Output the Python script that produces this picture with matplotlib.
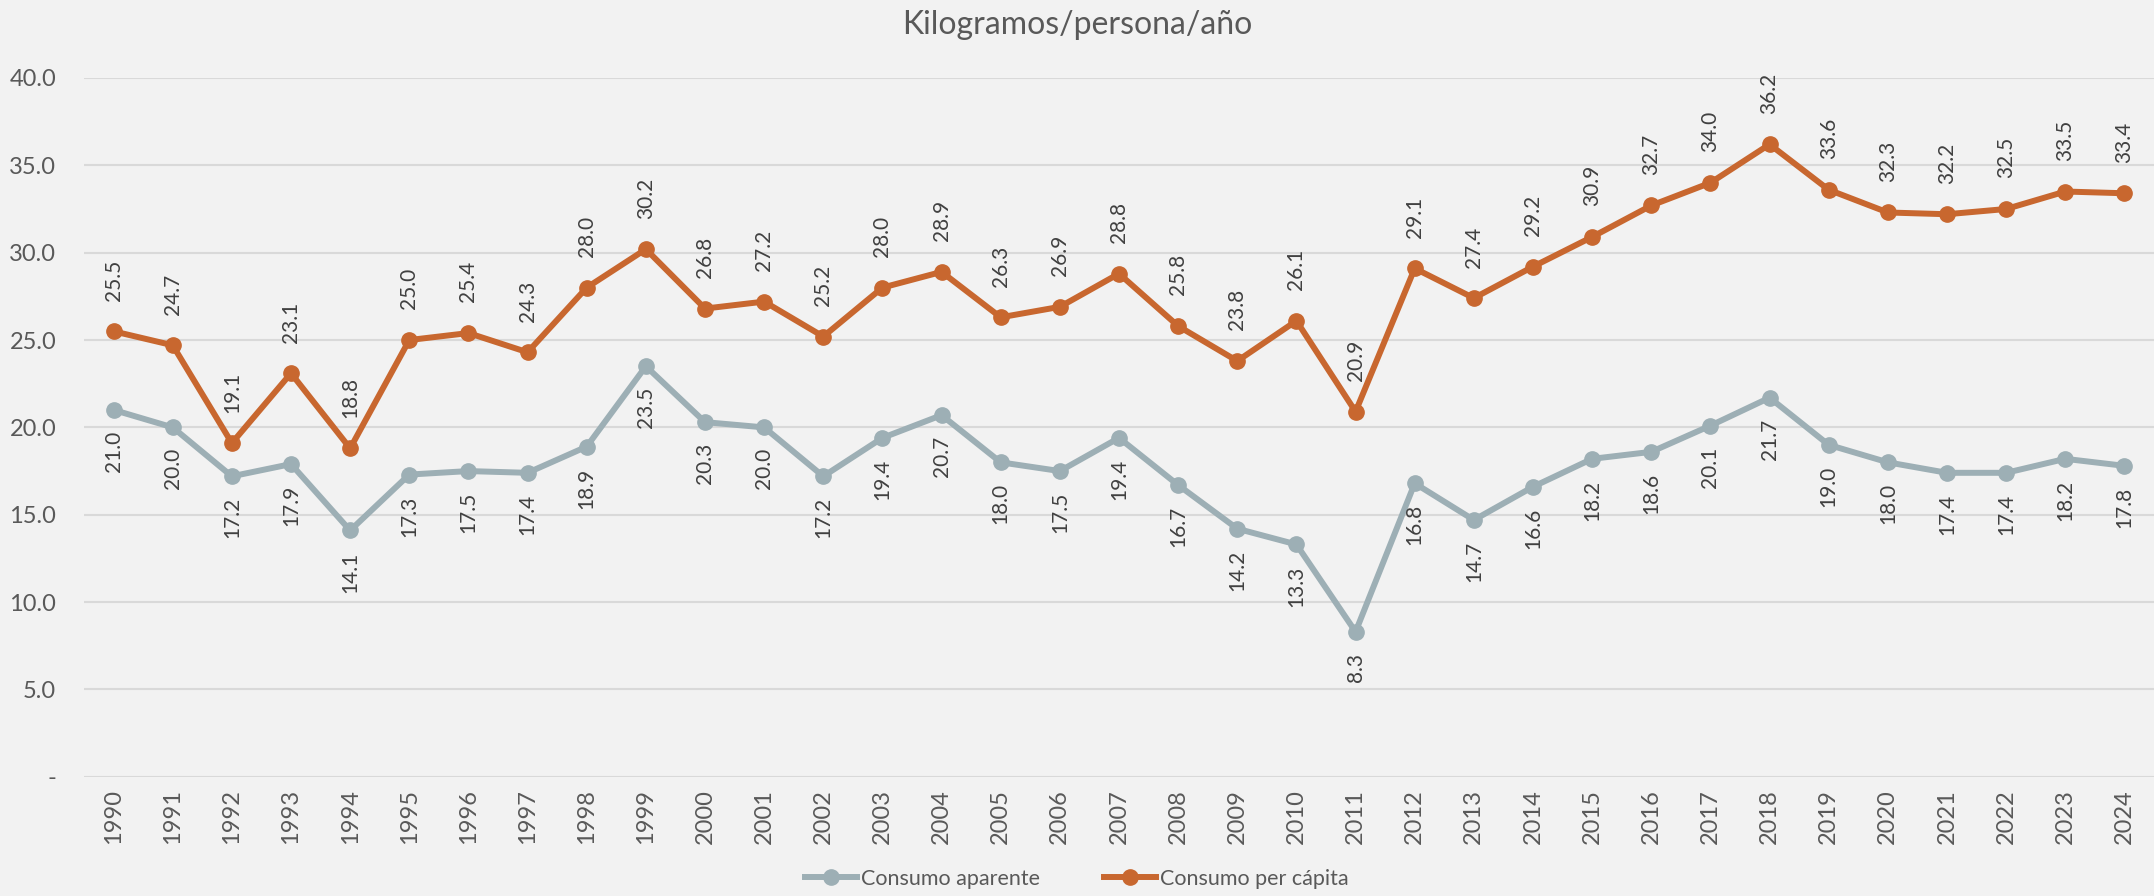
import matplotlib
matplotlib.use("Agg")
from matplotlib import pyplot as plt
from matplotlib.ticker import FuncFormatter

years = [str(y) for y in range(1990, 2025)]
consumo_aparente = [21.0, 20.0, 17.2, 17.9, 14.1, 17.3, 17.5, 17.4, 18.9, 23.5,
                    20.3, 20.0, 17.2, 19.4, 20.7, 18.0, 17.5, 19.4, 16.7, 14.2,
                    13.3, 8.3, 16.8, 14.7, 16.6, 18.2, 18.6, 20.1, 21.7, 19.0,
                    18.0, 17.4, 17.4, 18.2, 17.8]
consumo_per_capita = [25.5, 24.7, 19.1, 23.1, 18.8, 25.0, 25.4, 24.3, 28.0, 30.2,
                      26.8, 27.2, 25.2, 28.0, 28.9, 26.3, 26.9, 28.8, 25.8, 23.8,
                      26.1, 20.9, 29.1, 27.4, 29.2, 30.9, 32.7, 34.0, 36.2, 33.6,
                      32.3, 32.2, 32.5, 33.5, 33.4]
y_ticks = [0, 5, 10, 15, 20, 25, 30, 35, 40]

BG = "#F2F2F2"
GRAY = "#9DAFB5"
ORANGE = "#C8672F"
TEXT = "#595959"
LABEL = "#404040"

plt.rcParams["font.family"] = ["Lato", "DejaVu Sans"]

fig = plt.figure(figsize=(21.54, 8.96), dpi=100, facecolor=BG)
ax = fig.add_axes([0.039, 0.133, 0.961, 0.780], facecolor=BG)

x = list(range(len(years)))
ax.plot(x, consumo_aparente, color=GRAY, lw=4.3, marker="o", ms=11,
        label="Consumo aparente", zorder=3)
ax.plot(x, consumo_per_capita, color=ORANGE, lw=4.3, marker="o", ms=11,
        label="Consumo per cápita", zorder=3)

# etiquetas: arriba para per cápita, abajo para aparente
for i, v in enumerate(consumo_per_capita):
    ax.annotate(f"{v:.1f}", (i, v), xytext=(0, 22), textcoords="offset points",
                rotation=90, ha="center", va="bottom", fontsize=15, color=LABEL)
for i, v in enumerate(consumo_aparente):
    ax.annotate(f"{v:.1f}", (i, v), xytext=(0, -15), textcoords="offset points",
                rotation=90, ha="center", va="top", fontsize=15, color=LABEL)

ax.set_xlim(-0.5, len(years) - 0.5)
ax.set_ylim(0, 40)
ax.set_yticks(y_ticks)
ax.yaxis.set_major_formatter(FuncFormatter(lambda v, p: "-" if v == 0 else f"{v:.1f}"))
ax.set_xticks(x)
ax.set_xticklabels(years, rotation=90)
ax.tick_params(axis="both", length=0, labelsize=17, colors=TEXT)
ax.tick_params(axis="x", pad=9)
ax.tick_params(axis="y", pad=20)

ax.grid(axis="y", color="#D9D9D9", lw=1.5)
ax.set_axisbelow(True)
for s in ax.spines.values():
    s.set_visible(False)

fig.text(0.5, 0.972, "Kilogramos/persona/año", ha="center", va="center",
         fontsize=23, color=TEXT)
fig.legend(loc="center", bbox_to_anchor=(0.5, 0.019), ncol=2, frameon=False,
           fontsize=15.5, labelcolor=TEXT, handlelength=2.4, columnspacing=3,
           handletextpad=0.2)

fig.savefig("out.png", dpi=100, facecolor=BG)
